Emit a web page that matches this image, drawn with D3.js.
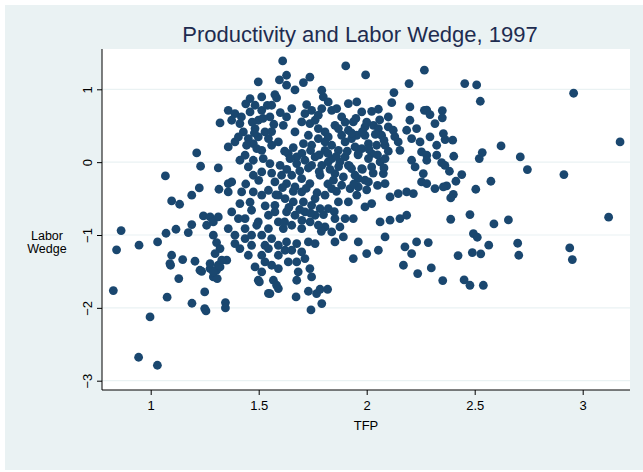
<!DOCTYPE html>
<html>
<head>
<meta charset="utf-8">
<script src="https://cdn.jsdelivr.net/npm/d3@7"></script>
<style>
  html, body { margin: 0; padding: 0; background: #ffffff; }
  svg { display: block; font-family: "Liberation Sans", Arial, sans-serif; }
</style>
</head>
<body>
<svg id="chart" width="643" height="472"></svg>
<script>
// Productivity (TFP) and labor wedge, 1997 -- one point per observation
const tfp = [
  // dense centre
  1.460,1.514,1.583,1.722,1.799,1.915,1.954,2.116,1.359,1.390,1.460,1.514,1.552,1.629,1.714,1.745,1.792,1.838,1.861,1.938,
  1.977,2.023,2.054,2.200,2.267,2.200,1.375,1.429,1.483,1.498,1.545,1.614,1.668,1.737,1.761,1.807,1.853,1.884,1.915,1.954,
  1.992,2.031,2.054,2.100,2.123,2.185,2.231,2.146,1.359,1.390,1.437,1.475,1.514,1.560,1.591,1.637,1.676,1.707,1.745,1.776,
  1.807,1.838,1.869,1.900,1.946,1.977,2.008,2.023,2.062,2.085,2.154,2.208,2.247,2.254,1.375,1.413,1.452,1.475,1.514,1.552,
  1.599,1.645,1.676,1.714,1.761,1.792,1.822,1.853,1.892,1.930,1.961,1.992,2.023,2.077,2.085,2.224,2.262,2.254,1.359,1.359,
  1.421,1.413,1.475,1.514,1.545,1.591,1.629,1.668,1.699,1.737,1.761,1.807,1.838,1.869,1.915,1.954,1.992,2.023,2.108,2.146,
  2.185,2.216,1.375,1.437,1.467,1.498,1.545,1.591,1.629,1.668,1.714,1.761,1.807,1.853,1.900,1.938,2.062,2.108,2.154,2.185,
  1.359,1.390,1.413,1.467,1.514,1.560,1.591,1.629,1.676,1.730,1.761,1.853,1.892,1.961,2.085,2.177,2.231,1.352,1.514,1.591,
  1.653,1.676,1.714,1.737,1.483,1.514,1.560,1.591,1.683,1.745,1.498,1.568,1.938,2.000,2.054,2.170,2.208,2.236,
  // more of the overlapping centre
  1.413,1.452,1.491,1.529,1.444,1.406,1.521,1.475,
  1.776,1.822,1.869,1.900,1.930,1.961,1.992,1.807,1.838,1.876,1.915,1.946,1.977,2.008,1.884,1.923,1.961,1.846,1.784,1.745,
  1.730,2.008,2.046,2.069,
  1.575,1.606,1.653,1.699,1.622,1.660,1.707,1.745,1.784,1.575,1.614,1.653,1.699,1.738,1.776,1.545,1.575,1.822,1.838,1.876,
  1.406,1.437,1.467,1.491,1.437,1.390,1.529,1.452,
  1.545,1.622,1.699,1.529,1.637,
  1.483,1.560,1.653,1.699,1.776,1.822,1.884,1.498,
  2.085,2.208,
  1.62,1.66,1.70,1.74,1.78,1.82,1.86,1.63,1.69,1.73,1.78,1.83,1.87,
  1.61,1.66,1.72,1.77,1.82,1.86,1.64,1.69,1.74,1.80,1.85,1.62,1.70,1.79,
  1.90,1.95,2.00,2.06,2.10,1.93,1.98,2.04,2.08,2.13,1.91,1.96,2.01,2.05,2.10,1.92,1.98,2.03,2.08,1.94,2.00,2.05,
  1.42,1.47,1.52,1.57,1.44,1.54,1.60,1.48,1.56,
  1.44,1.50,1.56,1.46,1.53,1.58,
  // top band
  1.498,1.611,1.903,1.995,2.267,1.596,1.629,1.629,1.668,1.707,1.737,1.575,1.792,2.196,2.126,1.321,1.213,
  2.278,2.293,2.316,2.293,2.324,2.324,2.278,
  // right side
  2.454,2.509,2.958,2.526,2.350,2.350,2.355,2.363,2.398,2.622,3.173,2.403,2.521,2.535,2.711,
  2.347,2.383,2.440,2.413,2.370,2.401,2.389,2.505,2.575,2.744,2.913,2.389,2.478,2.589,2.656,3.120,
  2.494,2.512,2.565,2.699,2.940,2.952,2.423,2.489,2.528,2.704,2.278,2.316,2.355,2.278,2.362,2.285,
  // bottom band
  2.299,2.352,1.552,1.591,1.673,1.676,1.730,1.768,1.784,1.819,1.792,1.742,2.451,2.478,2.540,
  // left side
  0.827,0.997,0.944,1.031,1.076,1.130,1.191,1.250,1.250,1.256,1.346,1.346,1.236,1.275,1.305,1.290,1.308,1.321,1.092,
  1.503,1.545,1.583,
  1.068,0.863,0.842,0.946,1.032,1.071,1.117,1.097,1.134,1.190,1.225,1.231,1.313,1.316,1.174,1.190,1.244,1.275,1.259,1.290,
  1.313,1.290,1.305,1.321,1.298,1.097,1.089,1.148,1.205,1.275,1.313,1.290,1.228,1.329
];
const wedge = [
  0.872,0.895,0.881,0.790,0.895,0.804,0.827,0.817,0.712,0.666,0.689,0.712,0.621,0.621,0.666,0.712,0.735,0.712,0.735,0.552,
  0.689,0.698,0.726,0.758,0.712,0.575,0.575,0.415,0.461,0.346,0.323,0.506,0.415,0.529,0.575,0.415,0.506,0.369,0.438,0.369,
  0.483,0.506,0.461,0.483,0.438,0.438,0.461,0.278,0.209,0.278,0.095,0.255,0.163,0.232,0.278,0.117,0.072,0.255,0.232,0.323,
  0.278,0.232,0.163,0.072,0.209,0.186,0.255,0.117,0.003,0.049,0.163,0.026,0.278,0.140,-0.271,0.026,-0.065,-0.180,-0.134,-0.020,
  -0.043,0.049,-0.020,0.026,0.072,-0.043,0.003,-0.157,-0.203,-0.088,-0.226,-0.248,-0.065,-0.157,-0.294,-0.065,-0.157,-0.271,-0.294,-0.409,
  -0.409,-0.569,-0.409,-0.454,-0.386,-0.454,-0.294,-0.340,-0.409,-0.294,-0.500,-0.454,-0.363,-0.546,-0.546,-0.454,-0.614,-0.569,-0.477,-0.432,
  -0.409,-0.432,-0.683,-0.775,-0.660,-0.820,-0.729,-0.820,-0.683,-0.729,-0.683,-0.729,-0.889,-0.775,-0.775,-0.775,-0.820,-0.797,-0.775,-0.729,
  -0.912,-1.003,-1.186,-1.141,-1.003,-1.049,-1.141,-1.095,-1.118,-1.095,-1.118,-1.095,-1.026,-1.095,-1.026,-1.163,-1.095,-1.346,-1.278,-1.278,
  -1.209,-1.369,-1.323,-1.461,-1.438,-1.506,-1.415,-1.461,-1.506,-1.575,-1.621,-1.621,-1.323,-1.255,-1.209,-1.415,-1.255,-1.529,
  0.529,0.323,0.186,0.415,0.232,0.346,0.049,0.026,
  0.461,0.346,0.461,0.278,0.323,0.117,0.369,0.163,0.049,0.003,-0.043,-0.180,-0.088,-0.271,-0.317,-0.363,-0.340,-0.248,-0.180,-0.043,
  0.369,0.049,0.232,0.369,
  -0.271,-0.180,-0.180,-0.226,-0.500,-0.546,-0.546,-0.592,-0.637,-0.592,-0.912,-0.866,-0.912,-0.820,-0.866,-0.912,-0.683,-0.637,-0.958,-0.889,
  -0.775,-0.912,-1.003,-0.866,-1.049,-1.118,-1.141,-1.278,
  -1.186,-1.209,-1.232,-1.369,-1.369,
  0.781,0.781,0.735,0.552,0.644,0.827,0.621,0.575,
  0.232,0.323,
  0.15,0.20,0.12,0.16,0.10,0.12,0.08,-0.10,-0.12,-0.08,-0.13,-0.10,-0.06,
  -0.35,-0.40,-0.36,-0.42,-0.30,-0.40,-0.62,-0.65,-0.70,-0.72,-0.68,-0.82,-0.80,-0.95,
  0.55,0.60,0.55,0.58,0.62,0.40,0.42,0.38,0.30,0.35,0.15,0.10,0.18,0.10,0.15,-0.05,-0.10,-0.15,-0.08,-0.30,-0.38,-0.32,
  0.62,0.55,0.60,0.52,0.80,0.78,0.68,0.40,0.42,
  -0.30,-0.25,-0.15,-0.55,-0.60,-0.45,
  1.102,1.390,1.321,1.198,1.262,1.129,1.193,1.056,0.992,1.092,1.166,0.928,0.987,1.079,0.955,0.539,0.127,
  0.713,0.653,0.530,0.347,0.232,0.095,0.095,
  1.079,1.060,0.946,0.836,0.708,0.608,0.392,0.310,0.301,0.223,0.278,0.081,0.049,0.132,0.072,
  -0.006,-0.125,-0.171,-0.262,-0.326,-0.441,-0.491,-0.372,-0.262,-0.102,-0.171,-0.784,-0.720,-0.848,-0.793,-0.756,
  -0.980,-1.031,-1.140,-1.113,-1.177,-1.337,-1.282,-1.241,-1.259,-1.278,-0.294,-0.363,-0.340,0.026,-0.043,-1.104,
  -1.452,-1.626,-1.804,-1.735,-1.850,-1.621,-1.772,-1.804,-1.745,-1.745,-1.941,-2.028,-1.616,-1.690,-1.690,
  -1.763,-2.124,-2.678,-2.788,-1.854,-1.598,-1.937,-1.781,-2.010,-2.042,-1.928,-2.001,-1.498,-1.461,-1.484,-1.575,-1.598,-1.438,-1.415,
  -1.644,-1.800,-1.690,
  -0.189,-0.939,-1.204,-1.140,-1.095,-0.976,-0.921,-0.532,-0.578,-0.454,-0.354,-0.056,-0.079,-0.372,-0.967,-0.857,-0.738,-0.752,-0.866,-0.820,
  -0.752,-1.003,-1.104,-1.186,-1.255,-1.278,-1.392,-1.337,-1.360,-1.392,-1.415,-1.506,-1.484,-1.346
];
const xTicks = [1, 1.5, 2, 2.5, 3];
const yTicks = [1, 0, -1, -2, -3];

const points = tfp.map((t, i) => ({ t, w: wedge[i] }));

const svg = d3.select("#chart");
const W = 643, H = 472;
const plot = { left: 102, right: 630, top: 49, bottom: 390 };

// scales anchored on the tick positions seen in the picture
const x = d3.scaleLinear().domain([1, 3]).range([150.7, 582.7]);
const y = d3.scaleLinear().domain([1, -3]).range([89.3, 380.7]);

// graph region
svg.append("rect").attr("x", 5).attr("y", 5).attr("width", W - 5).attr("height", H - 7)
  .attr("fill", "#eaf2f3");
svg.append("rect")
  .attr("x", plot.left).attr("y", plot.top)
  .attr("width", plot.right - plot.left).attr("height", plot.bottom - plot.top)
  .attr("fill", "#ffffff");

// grid
svg.append("g").selectAll("line").data(yTicks).join("line")
  .attr("x1", plot.left).attr("x2", plot.right)
  .attr("y1", d => y(d)).attr("y2", d => y(d))
  .attr("stroke", "#eaf2f3").attr("stroke-width", 1.2);

// axes
const xAxis = svg.append("g")
  .attr("transform", `translate(0,${plot.bottom})`)
  .call(d3.axisBottom(x).tickValues(xTicks).tickSize(5).tickPadding(6).tickFormat(d3.format("")));
xAxis.select(".domain").attr("d", `M${plot.left},0H${plot.right}`);

const yAxis = svg.append("g")
  .attr("transform", `translate(${plot.left},0)`)
  .call(d3.axisLeft(y).tickValues(yTicks).tickSize(5).tickPadding(4).tickFormat(d3.format("")));
yAxis.select(".domain").attr("d", `M0,${plot.top}V${plot.bottom}`);

svg.selectAll(".tick line").attr("stroke", "#000");
svg.selectAll(".domain").attr("stroke", "#000");
svg.selectAll(".tick text").attr("font-size", 13).attr("fill", "#000")
  .attr("font-family", "Liberation Sans, Arial, sans-serif");
yAxis.selectAll(".tick text")
  .attr("x", null).attr("dy", null)
  .attr("text-anchor", "middle")
  .attr("transform", "translate(-10,0) rotate(-90)")
  .attr("y", 0);

// markers
svg.append("g").selectAll("circle").data(points).join("circle")
  .attr("cx", d => x(d.t)).attr("cy", d => y(d.w))
  .attr("r", 4.4)
  .attr("fill", "#1a476f");

// title and axis titles
svg.append("text")
  .attr("x", 360).attr("y", 42)
  .attr("text-anchor", "middle")
  .attr("font-size", 22).attr("fill", "#1e2c50")
  .text("Productivity and Labor Wedge, 1997");

svg.append("text")
  .attr("x", (plot.left + plot.right) / 2).attr("y", 430)
  .attr("text-anchor", "middle").attr("font-size", 13)
  .text("TFP");

const yt = svg.append("text")
  .attr("text-anchor", "middle").attr("font-size", 12.5);
yt.append("tspan").attr("x", 47).attr("y", 240).text("Labor");
yt.append("tspan").attr("x", 47).attr("y", 253).text("Wedge");
</script>
</body>
</html>
